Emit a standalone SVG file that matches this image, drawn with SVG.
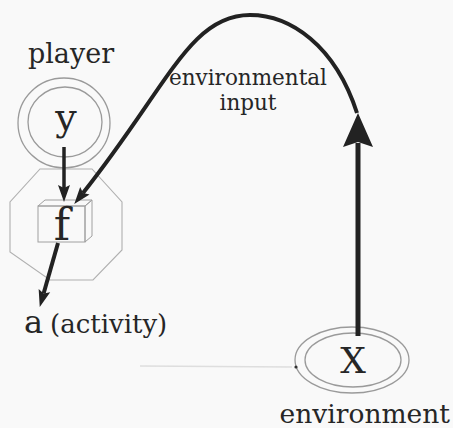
<svg xmlns="http://www.w3.org/2000/svg" width="453" height="428" viewBox="0 0 453 428">
<style>
.t{font-family:"DejaVu Serif","Liberation Serif",serif;fill:#262626}
.ring{fill:none;stroke:#9a9a9a;stroke-width:1.3}
.oct{fill:none;stroke:#b0b0b0;stroke-width:1.1}
.box{fill:none;stroke:#a0a0a0;stroke-width:1}
.arr{fill:none;stroke:#222;stroke-linecap:butt}
</style>
<defs>
<marker id="sm" markerUnits="userSpaceOnUse" markerWidth="20" markerHeight="20" refX="0" refY="0" orient="auto" overflow="visible">
<path d="M-3,-6 L14,0 L-3,6 L0,0 Z" fill="#222"/>
</marker>
<marker id="big" markerUnits="userSpaceOnUse" markerWidth="40" markerHeight="40" refX="0" refY="0" orient="auto" overflow="visible">
<path d="M-4,-15 L30,0 L-4,15 L1,0 Z" fill="#222"/>
</marker>
</defs>
<rect x="0" y="0" width="453" height="428" fill="#f9f9f9"/>

<g id="player">
<text class="t" x="71" y="63" font-size="27" text-anchor="middle">player</text>
<ellipse class="ring" cx="64" cy="123" rx="46" ry="45"/>
<ellipse class="ring" cx="65" cy="122" rx="37" ry="35"/>
<text class="t" x="66" y="130" font-size="38" text-anchor="middle">y</text>
</g>

<g id="f">
<polygon class="oct" points="40,169 92,169 122,202 122,250 93,280 50,280 10,252 10,202"/>
<rect class="box" x="38" y="206" width="47" height="36"/>
<polygon class="box" points="38,206 45,200 92,200 85,206"/>
<polygon class="box" points="85,206 92,200 92,236 85,242"/>
<text class="t" x="62" y="240" font-size="44" text-anchor="middle">f</text>
</g>

<g id="activity">
<text class="t" y="333"><tspan x="24" font-size="32">a</tspan><tspan x="50" font-size="26">(activity)</tspan></text>
</g>

<g id="environment">
<ellipse class="ring" cx="352" cy="360" rx="57" ry="33"/>
<ellipse class="ring" cx="353" cy="360" rx="48" ry="27"/>
<text class="t" x="353" y="373" font-size="36" text-anchor="middle">X</text>
<text class="t" x="450" y="423" font-size="26.5" text-anchor="end">environment</text>
</g>

<g id="label-input">
<text class="t" x="248" y="85" font-size="21.5" text-anchor="middle">environmental</text>
<text class="t" x="248" y="110" font-size="21.5" text-anchor="middle">input</text>
</g>

<g id="connectors">
<line x1="140" y1="366" x2="292" y2="367" stroke="#dedede" stroke-width="1.5"/>
<circle cx="296" cy="367" r="1.6" fill="#333"/>
<line class="arr" x1="358" y1="336" x2="358" y2="143" stroke-width="5" marker-end="url(#big)"/>
<path class="arr" d="M357,113 C335,45 290,15 250,15 C190,15 168,86 83,193" stroke-width="4" marker-end="url(#sm)"/>
<line class="arr" x1="64" y1="147" x2="64" y2="188" stroke-width="3.5" marker-end="url(#sm)"/>
<line class="arr" x1="58" y1="243" x2="43.6" y2="293.5" stroke-width="4" marker-end="url(#sm)"/>
</g>
</svg>
